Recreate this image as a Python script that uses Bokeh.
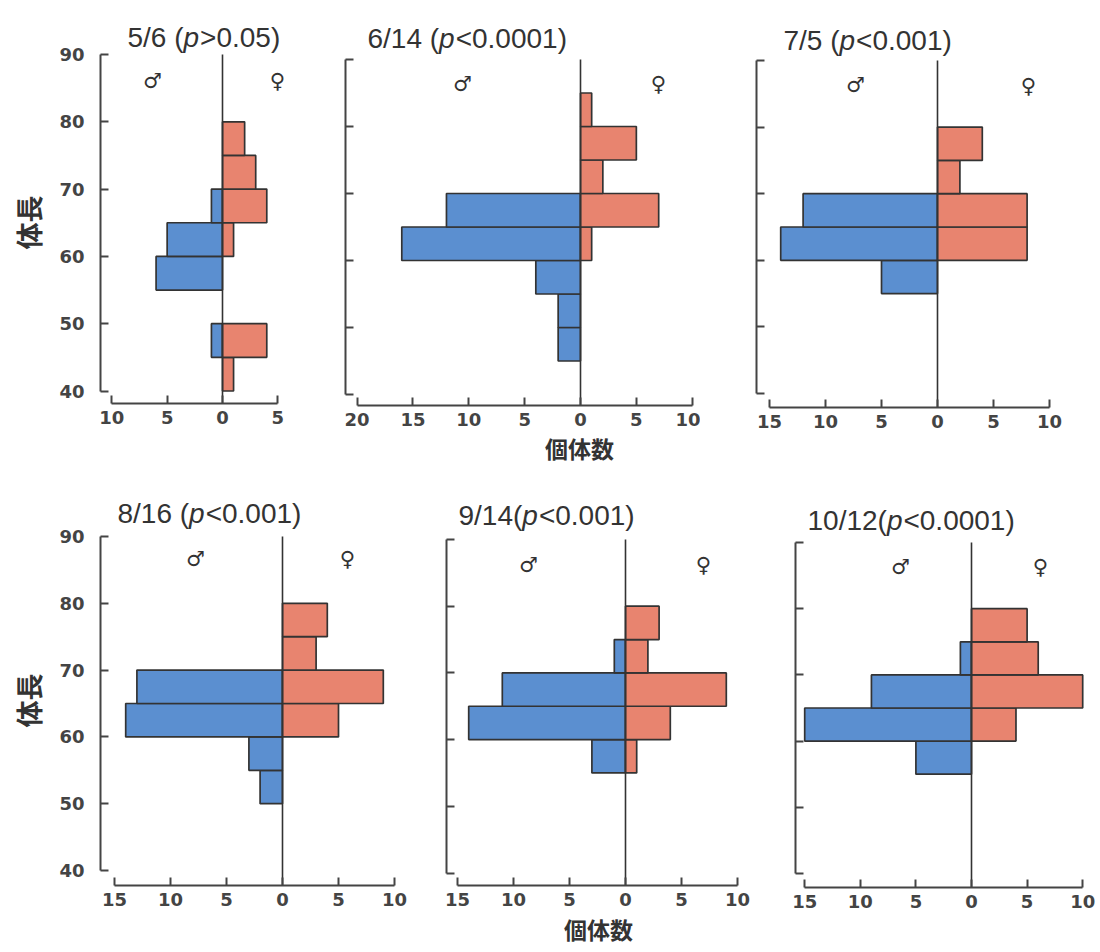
import math
from bokeh.plotting import figure
from bokeh.models import FixedTicker, CustomJSTickFormatter, Label, Range1d
from bokeh.layouts import column, row
from bokeh.embed import file_html
from bokeh.resources import INLINE

# ---------------- data ----------------
bin_lower = [40, 45, 50, 55, 60, 65, 70, 75, 80]
bin_width = 5
y_ticks = [40, 50, 60, 70, 80, 90]

title_prefix = ["5/6 (", "6/14 (", "7/5 (", "8/16 (", "9/14(", "10/12("]
title_italic = ["p", "p", "p", "p", "p", "p"]
title_suffix = [">0.05)", "<0.0001)", "<0.001)", "<0.001)", "<0.001)", "<0.0001)"]

male_0506 = [0, 1, 0, 6, 5, 1, 0, 0, 0]
female_0506 = [1, 4, 0, 0, 1, 4, 3, 2, 0]
male_0614 = [0, 2, 2, 4, 16, 12, 0, 0, 0]
female_0614 = [0, 0, 0, 0, 1, 7, 2, 5, 1]
male_0705 = [0, 0, 0, 5, 14, 12, 0, 0, 0]
female_0705 = [0, 0, 0, 0, 8, 8, 2, 4, 0]
male_0816 = [0, 0, 2, 3, 14, 13, 0, 0, 0]
female_0816 = [0, 0, 0, 0, 5, 9, 3, 4, 0]
male_0914 = [0, 0, 0, 3, 14, 11, 1, 0, 0]
female_0914 = [0, 0, 0, 1, 4, 9, 2, 3, 0]
male_1012 = [0, 0, 0, 5, 15, 9, 1, 0, 0]
female_1012 = [0, 0, 0, 0, 4, 10, 6, 5, 0]

x_ticks_0506 = [-10, -5, 0, 5]
x_ticks_0614 = [-20, -15, -10, -5, 0, 5, 10]
x_ticks_std = [-15, -10, -5, 0, 5, 10]

male_sets = [male_0506, male_0614, male_0705, male_0816, male_0914, male_1012]
female_sets = [female_0506, female_0614, female_0705, female_0816, female_0914, female_1012]
x_tick_sets = [x_ticks_0506, x_ticks_0614, x_ticks_std, x_ticks_std, x_ticks_std, x_ticks_std]

y_label = "体長"
x_label = "個体数"
male_sym = "♂"
female_sym = "♀"

# ---------------- layout (page pixel geometry) ----------------
# fig: (left, top, width, height); zx: page x of count 0; s: px per count;
# y90: page y of length 90; sy: px per length unit; fl: page x of y-axis line;
# fb: page y of x-axis line
layout = [
    dict(fig=(0, 0, 300, 470), zx=222, s=11.07, y90=54, sy=6.73, fl=100, fb=403,
         title=(127, 37), male=(152, 80), female=(277, 80), ylab=(28, 222), xlab=None),
    dict(fig=(300, 0, 400, 470), zx=580, s=11.17, y90=59, sy=6.7, fl=345, fb=405,
         title=(367, 38), male=(462, 83), female=(658, 83), ylab=None, xlab=(579, 447)),
    dict(fig=(700, 0, 400, 470), zx=937, s=11.2, y90=60, sy=6.66, fl=756, fb=407,
         title=(783, 40), male=(855, 84), female=(1028, 85), ylab=None, xlab=None),
    dict(fig=(0, 470, 420, 482), zx=282, s=11.2, y90=536, sy=6.68, fl=100, fb=885,
         title=(117, 513), male=(195, 558), female=(347, 558), ylab=(28, 700), xlab=None),
    dict(fig=(420, 470, 340, 482), zx=625, s=11.2, y90=539, sy=6.67, fl=446, fb=885,
         title=(458, 515), male=(528, 564), female=(703, 564), ylab=None, xlab=(598, 928)),
    dict(fig=(760, 470, 340, 482), zx=971, s=11.12, y90=542, sy=6.62, fl=795, fb=887,
         title=(807, 520), male=(900, 566), female=(1040, 566), ylab=None, xlab=None),
]

BLUE = "#5b8fd0"
SALMON = "#e8846f"
EDGE = "#333333"
AXIS = "#444444"
TXT = "#333333"
TICK_TXT = "#444444"

ADV = {"0": 556, "1": 556, "2": 556, "3": 556, "4": 556, "5": 556, "6": 556, "7": 556,
       "8": 556, "9": 556, "/": 278, " ": 278, "(": 333, ")": 333, "p": 556, "<": 584,
       ">": 584, ".": 278}


def text_w(t, size):
    return sum(ADV.get(c, 556) for c in t) / 1000.0 * size


TITLE_SIZE = 28


def style_axis(ax, standoff):
    ax.major_tick_in = 8
    ax.major_tick_out = 0
    ax.minor_tick_line_color = None
    ax.axis_line_color = AXIS
    ax.axis_line_width = 2
    ax.major_tick_line_color = AXIS
    ax.major_tick_line_width = 2
    ax.major_label_text_font = "DejaVu Sans"
    ax.major_label_text_font_style = "bold"
    ax.major_label_text_font_size = "18px"
    ax.major_label_text_color = TICK_TXT
    ax.major_label_standoff = standoff


def make_panel(i):
    L = layout[i]
    fx, fy, fw, fh = L["fig"]
    zx, s, y90, sy = L["zx"], L["s"], L["y90"], L["sy"]

    def dx(px):
        return (px - zx) / s

    def dy(py):
        return 90 - (py - y90) / sy

    p = figure(width=fw, height=fh, output_backend="svg", toolbar_location=None,
               x_range=Range1d(dx(fx), dx(fx + fw)), y_range=Range1d(dy(fy + fh), dy(fy)),
               min_border=0, min_border_left=0, min_border_right=0,
               min_border_top=0, min_border_bottom=0,
               background_fill_color="white", border_fill_color="white")
    p.outline_line_color = None
    p.grid.visible = False

    y_axis_x = dx(L["fl"])
    x_axis_y = dy(L["fb"])

    # axes (placed at fixed data locations inside the frame)
    xt = x_tick_sets[i]
    xa = p.xaxis[0]
    xa.fixed_location = x_axis_y
    xa.ticker = FixedTicker(ticks=xt)
    xa.bounds = (min(xt), max(xt))
    xa.formatter = CustomJSTickFormatter(code="return Math.abs(tick).toString()")
    style_axis(xa, 7)

    ya = p.yaxis[0]
    ya.fixed_location = y_axis_x
    ya.ticker = FixedTicker(ticks=y_ticks)
    ya.bounds = (min(y_ticks), max(y_ticks))
    style_axis(ya, 16)
    if L["ylab"] is None:
        ya.formatter = CustomJSTickFormatter(code="return ''")

    # bars
    m = male_sets[i]
    f = female_sets[i]
    mc = [b + bin_width / 2 for b, v in zip(bin_lower, m) if v > 0]
    mv = [-v for v in m if v > 0]
    fc = [b + bin_width / 2 for b, v in zip(bin_lower, f) if v > 0]
    fv = [v for v in f if v > 0]
    p.hbar(y=mc, height=bin_width, left=mv, right=0, fill_color=BLUE,
           line_color=EDGE, line_width=1.7)
    p.hbar(y=fc, height=bin_width, left=0, right=fv, fill_color=SALMON,
           line_color=EDGE, line_width=1.7)

    # zero line from the x axis up to the top of the length scale
    p.segment(x0=[0], y0=[x_axis_y], x1=[0], y1=[max(y_ticks)], line_color=EDGE, line_width=1.6)

    # title pieces
    tx, ty = L["title"]
    pre, it, suf = title_prefix[i], title_italic[i], title_suffix[i]
    x1 = tx
    x2 = x1 + text_w(pre, TITLE_SIZE)
    x3 = x2 + text_w(it, TITLE_SIZE) + 1
    for txt, px, style in [(pre, x1, "normal"), (it, x2, "italic"), (suf, x3, "normal")]:
        p.add_layout(Label(x=dx(px), y=dy(ty), text=txt, text_font="Liberation Sans",
                           text_font_style=style, text_font_size=f"{TITLE_SIZE}px",
                           text_color=TXT, text_align="left", text_baseline="alphabetic"))

    # sex symbols
    for sym, pos in [(male_sym, L["male"]), (female_sym, L["female"])]:
        p.add_layout(Label(x=dx(pos[0]), y=dy(pos[1]), text=sym, text_font="DejaVu Sans",
                           text_font_size="21px", text_color=TXT, text_align="center",
                           text_baseline="middle"))

    if L["ylab"] is not None:
        px, py = L["ylab"]
        p.add_layout(Label(x=dx(px), y=dy(py), text=y_label, text_font="Noto Sans CJK JP",
                           text_font_style="bold", text_font_size="27px", text_color=TXT,
                           text_align="center", text_baseline="middle", angle=math.pi / 2))
    if L["xlab"] is not None:
        px, py = L["xlab"]
        p.add_layout(Label(x=dx(px), y=dy(py), text=x_label, text_font="Noto Sans CJK JP",
                           text_font_style="bold", text_font_size="23px", text_color=TXT,
                           text_align="center", text_baseline="middle"))
    return p


panels = [make_panel(i) for i in range(6)]
lay = column(row(*panels[:3], spacing=0), row(*panels[3:], spacing=0), spacing=0)

open("out.html", "w").write(file_html(lay, INLINE))
